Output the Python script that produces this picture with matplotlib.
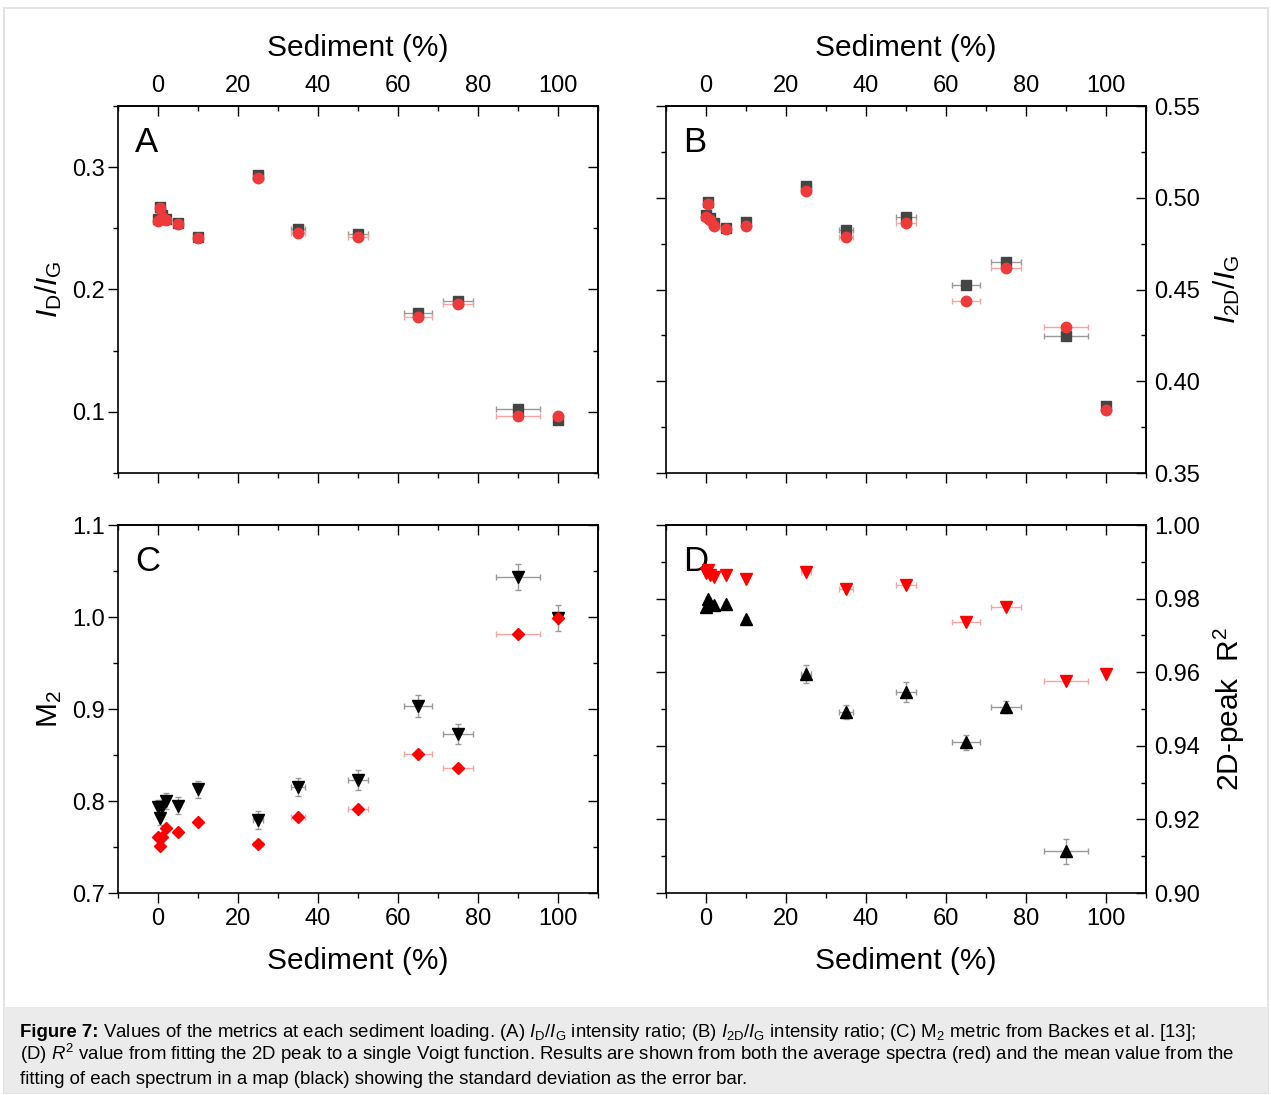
import numpy as np
import matplotlib.pyplot as plt
from matplotlib.ticker import MultipleLocator, FormatStrFormatter
from matplotlib.patches import Rectangle

plt.rcParams['font.family'] = ['Liberation Sans', 'DejaVu Sans']
plt.rcParams['mathtext.fontset'] = 'custom'
plt.rcParams['mathtext.rm'] = 'Liberation Sans'
plt.rcParams['mathtext.it'] = 'Liberation Sans:italic'
plt.rcParams['mathtext.bf'] = 'Liberation Sans:bold'

# sediment loading (%) and its spread
sediment = [0, 0.5, 1, 2, 5, 10, 25, 35, 50, 65, 75, 90, 100]
sediment_err = [0, 0, 0, 0, 0.2, 0.4, 1.3, 1.8, 2.5, 3.4, 3.8, 5.6, 0]

# (A) ID/IG
id_ig_avg = [0.2562, 0.2663, 0.2594, 0.2567, 0.2532, 0.2423, 0.2910, 0.2459, 0.2430,
             0.1773, 0.1879, 0.0970, 0.0962]
id_ig_map = [0.2575, 0.2675, 0.2605, 0.2578, 0.2545, 0.2432, 0.2932, 0.2492, 0.2452,
             0.1811, 0.1909, 0.1022, 0.0935]
id_ig_std = [0.002, 0.002, 0.002, 0.002, 0.002, 0.002, 0.004, 0.003, 0.003,
             0.003, 0.003, 0.003, 0.002]

# (B) I2D/IG
i2d_ig_avg = [0.4893, 0.4966, 0.4878, 0.4844, 0.4829, 0.4844, 0.5038, 0.4787, 0.4860,
              0.4435, 0.4615, 0.4293, 0.3843]
i2d_ig_map = [0.4906, 0.4975, 0.4890, 0.4860, 0.4835, 0.4869, 0.5065, 0.4826, 0.4896,
              0.4526, 0.4651, 0.4246, 0.3863]
i2d_ig_std = [0.001, 0.001, 0.001, 0.001, 0.001, 0.001, 0.002, 0.002, 0.002,
              0.002, 0.002, 0.002, 0.001]

# (C) M2 metric
m2_avg = [0.7605, 0.7510, 0.7612, 0.7710, 0.7667, 0.7772, 0.7533, 0.7823, 0.7913,
          0.8508, 0.8362, 0.9812, 0.9986]
m2_map = [0.7932, 0.7818, 0.7932, 0.8003, 0.7950, 0.8127, 0.7793, 0.8155, 0.8228,
          0.9036, 0.8725, 1.0438, 0.9990]
m2_std = [0.008, 0.008, 0.008, 0.0087, 0.009, 0.0094, 0.0094, 0.010, 0.0105,
          0.012, 0.011, 0.014, 0.014]

# (D) R^2 of single Voigt fit of the 2D peak
r2_avg = [0.9870, 0.9877, 0.9863, 0.9858, 0.9864, 0.9854, 0.9873, 0.9827, 0.9838,
          0.9736, 0.9777, 0.9577, 0.9595]
r2_map = [0.9776, 0.9799, 0.9786, 0.9783, 0.9784, 0.9745, 0.9595, 0.9492, 0.9546,
          0.9409, 0.9505, 0.9113, np.nan]
r2_std = [0.0006, 0.0006, 0.0006, 0.0006, 0.0006, 0.0006, 0.0024, 0.0020, 0.0027,
          0.0020, 0.0017, 0.0033, np.nan]

W, H = 1271, 1095
fig = plt.figure(figsize=(W / 100, H / 100), dpi=100)


def box(l, t, r, b):
    return [l / W, 1 - b / H, (r - l) / W, (b - t) / H]


# page frame and caption strip
fig.patches.append(Rectangle((4 / W, 1 - 1093 / H), 1264 / W, 1085 / H, transform=fig.transFigure,
                             facecolor='white', edgecolor='#dddddd', lw=1.2, zorder=-2))
fig.patches.append(Rectangle((4 / W, 1 - 1093 / H), 1264 / W, 86 / H, transform=fig.transFigure,
                             facecolor='#ebebeb', edgecolor='none', zorder=-1))

TICK = 17
LABEL = 21.5


def setup(ax, ylim, ymaj, ymin, yfmt, xlab_side, ylab_side, ylabel):
    ax.set_xlim(-10, 110)
    ax.set_ylim(*ylim)
    for s in ax.spines.values():
        s.set_linewidth(1.2)
    ax.xaxis.set_major_locator(MultipleLocator(20))
    ax.xaxis.set_minor_locator(MultipleLocator(10))
    ax.yaxis.set_major_locator(MultipleLocator(ymaj))
    ax.yaxis.set_minor_locator(MultipleLocator(ymin))
    ax.yaxis.set_major_formatter(FormatStrFormatter(yfmt))
    ax.tick_params(which='both', direction='out', width=1, labelsize=TICK,
                   labelbottom=(xlab_side == 'bottom'), labelleft=(ylab_side == 'left'))
    ax.tick_params(which='major', length=7)
    ax.tick_params(which='minor', length=3.5)
    ax.tick_params(axis='x', pad=4)
    ax.tick_params(axis='y', pad=2.5)

    top = ax.secondary_xaxis('top')
    top.xaxis.set_major_locator(MultipleLocator(20))
    top.xaxis.set_minor_locator(MultipleLocator(10))
    top.tick_params(which='both', direction='in', width=1, labelsize=TICK, pad=6.5,
                    labeltop=(xlab_side == 'top'))
    top.tick_params(which='major', length=7)
    top.tick_params(which='minor', length=3.5)
    top.spines['top'].set_linewidth(1.2)

    right = ax.secondary_yaxis('right')
    right.yaxis.set_major_locator(MultipleLocator(ymaj))
    right.yaxis.set_minor_locator(MultipleLocator(ymin))
    right.yaxis.set_major_formatter(FormatStrFormatter(yfmt))
    right.tick_params(which='both', direction='in', width=1, labelsize=TICK, pad=6,
                      labelright=(ylab_side == 'right'))
    right.tick_params(which='major', length=7)
    right.tick_params(which='minor', length=3.5)
    right.spines['right'].set_linewidth(1.2)

    if xlab_side == 'top':
        top.set_xlabel('Sediment (%)', fontsize=LABEL, labelpad=14)
    else:
        ax.set_xlabel('Sediment (%)', fontsize=LABEL, labelpad=12)
    if ylab_side == 'left':
        ax.set_ylabel(ylabel, fontsize=LABEL, labelpad=6)
    else:
        right.set_ylabel(ylabel, fontsize=LABEL, labelpad=8)


def series(ax, y_map, y_std, y_avg, m_map, m_avg, c_map, c_avg, ms_map, ms_avg):
    ax.errorbar(sediment, y_map, xerr=sediment_err, yerr=y_std, fmt=m_map, ms=ms_map,
                color=c_map, mec=c_map, ecolor='#9a9a9a', elinewidth=1, capsize=2.5,
                capthick=1, zorder=3)
    ax.errorbar(sediment, y_avg, xerr=sediment_err, fmt=m_avg, ms=ms_avg,
                color=c_avg, mec=c_avg, ecolor='#f6a5a5', elinewidth=1, capsize=2.5,
                capthick=1, zorder=4)


axA = fig.add_axes(box(118, 106, 598, 473))
series(axA, id_ig_map, id_ig_std, id_ig_avg, 's', 'o', '#454545', '#ee3a3a', 6.5, 7.5)
setup(axA, (0.05, 0.35), 0.1, 0.05, '%.1f', 'top', 'left', r'$I_\mathrm{D}/I_\mathrm{G}$')

axB = fig.add_axes(box(666, 106, 1146, 473))
series(axB, i2d_ig_map, i2d_ig_std, i2d_ig_avg, 's', 'o', '#454545', '#ee3a3a', 6.5, 7.5)
setup(axB, (0.35, 0.55), 0.05, 0.025, '%.2f', 'top', 'right', r'$I_\mathrm{2D}/I_\mathrm{G}$')

axC = fig.add_axes(box(118, 525, 598, 893))
series(axC, m2_map, m2_std, m2_avg, 'v', 'D', 'black', '#ff0000', 8.5, 6.5)
setup(axC, (0.7, 1.1), 0.1, 0.05, '%.1f', 'bottom', 'left', r'M$_2$')

axD = fig.add_axes(box(666, 525, 1146, 893))
series(axD, r2_map, r2_std, r2_avg, '^', 'v', 'black', '#ff0000', 8.5, 8.5)
setup(axD, (0.90, 1.00), 0.02, 0.01, '%.2f', 'bottom', 'right', r'2D-peak  R$^2$')

for ax, letter in zip((axA, axB, axC, axD), 'ABCD'):
    ax.text(0.035, 0.945, letter, transform=ax.transAxes, fontsize=25, va='top', ha='left')

# caption: bold figure number, then the description
CAP = 13.4
caption = [
    r' Values of the metrics at each sediment loading. (A) $I_\mathrm{D}/I_\mathrm{G}$'
    r' intensity ratio; (B) $I_\mathrm{2D}/I_\mathrm{G}$ intensity ratio; (C) M$_2$ metric from Backes et al. [13];',
    r'(D) $R^2$ value from fitting the 2D peak to a single Voigt function. Results are shown from both the'
    r' average spectra (red) and the mean value from the',
    'fitting of each spectrum in a map (black) showing the standard deviation as the error bar.',
]
head = fig.text(20 / W, 1 - 1032 / H, 'Figure 7:', fontsize=CAP, fontweight='bold',
                va='baseline', ha='left')
fig.canvas.draw()
head_w = head.get_window_extent().width
for i, line in enumerate(caption):
    x0 = 20 + (head_w if i == 0 else 0)
    fig.text(x0 / W, 1 - (1037 + 23.5 * i) / H, line, fontsize=CAP, va='baseline', ha='left')
head.set_y(1 - 1037 / H)

fig.savefig('out.png', dpi=100)
